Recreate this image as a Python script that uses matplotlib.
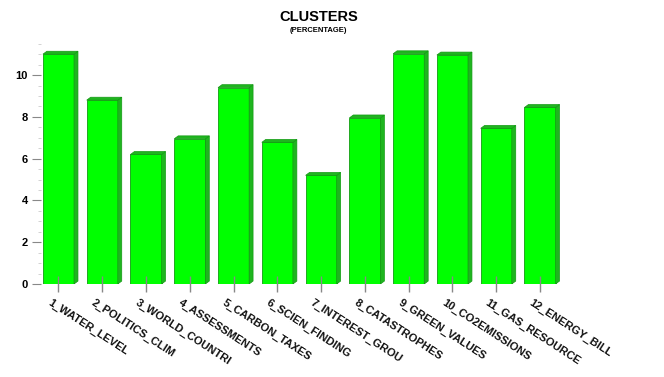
import matplotlib
matplotlib.use("Agg")
import matplotlib.pyplot as plt
import matplotlib.transforms as mtransforms
from matplotlib.patches import Polygon
from matplotlib.ticker import MultipleLocator

plt.rcParams['font.family'] = ['Liberation Sans', 'DejaVu Sans']

# data
categories = ['1_WATER_LEVEL', '2_POLITICS_CLIM', '3_WORLD_COUNTRI', '4_ASSESSMENTS',
              '5_CARBON_TAXES', '6_SCIEN_FINDING', '7_INTEREST_GROU', '8_CATASTROPHES',
              '9_GREEN_VALUES', '10_CO2EMISSIONS', '11_GAS_RESOURCE', '12_ENERGY_BILL']
values = [11.0, 8.8, 6.2, 6.95, 9.4, 6.78, 5.2, 7.95, 11.02, 10.96, 7.45, 8.45]

front = '#00ff00'
side = '#1fb51f'
edge = '#139a13'

fig = plt.figure(figsize=(6.64, 3.77), dpi=100)
ax = fig.add_axes([0.0617, 0.2467, 0.8373, 0.6373])

x = list(range(len(values)))
w = 0.71
dx, dy = 0.09, 0.14  # fake depth of the 3d bars

ax.bar(x, values, width=w, color=front, edgecolor=edge, linewidth=0.6, zorder=1)
for xi, v in zip(x, values):
    l, r = xi - w / 2, xi + w / 2
    # side face
    ax.add_patch(Polygon([(r, 0), (r + dx, dy), (r + dx, v + dy), (r, v)], closed=True,
                         facecolor=side, edgecolor=edge, linewidth=0.5, zorder=1))
    # top face
    ax.add_patch(Polygon([(l, v), (l + dx, v + dy), (r + dx, v + dy), (r, v)], closed=True,
                         facecolor=side, edgecolor=edge, linewidth=0.5, zorder=1))

ax.set_xlim(-0.4, 12.3)
ax.set_ylim(0, 11.5)
for s in ax.spines.values():
    s.set_visible(False)
ax.set_axisbelow(False)

ax.set_xticks(x)
ax.set_xticklabels(categories, rotation=-33, ha='left', va='top', rotation_mode='anchor',
                   fontsize=8, fontweight='bold', color='#111111')
ax.tick_params(axis='x', direction='inout', length=11, width=1.0, color='#888888', pad=4)
shift = mtransforms.ScaledTranslation(-7 / 100, 0, fig.dpi_scale_trans)
for lab in ax.get_xticklabels():
    lab.set_transform(lab.get_transform() + shift)

ax.yaxis.set_major_locator(MultipleLocator(2))
ax.yaxis.set_minor_locator(MultipleLocator(0.5))
ax.tick_params(axis='y', which='major', direction='out', length=6.5, width=0.8,
               color='#888888', pad=3, labelsize=8)
ax.tick_params(axis='y', which='minor', direction='out', length=2.2, width=0.6, color='#cccccc')
for lab in ax.get_yticklabels():
    lab.set_fontweight('bold')

fig.text(0.48, 0.956, 'CLUSTERS', ha='center', va='center', fontsize=10.5, fontweight='bold')
fig.text(0.48, 0.918, '(PERCENTAGE)', ha='center', va='center', fontsize=5.5, fontweight='bold')

fig.savefig('out.png', dpi=100)
